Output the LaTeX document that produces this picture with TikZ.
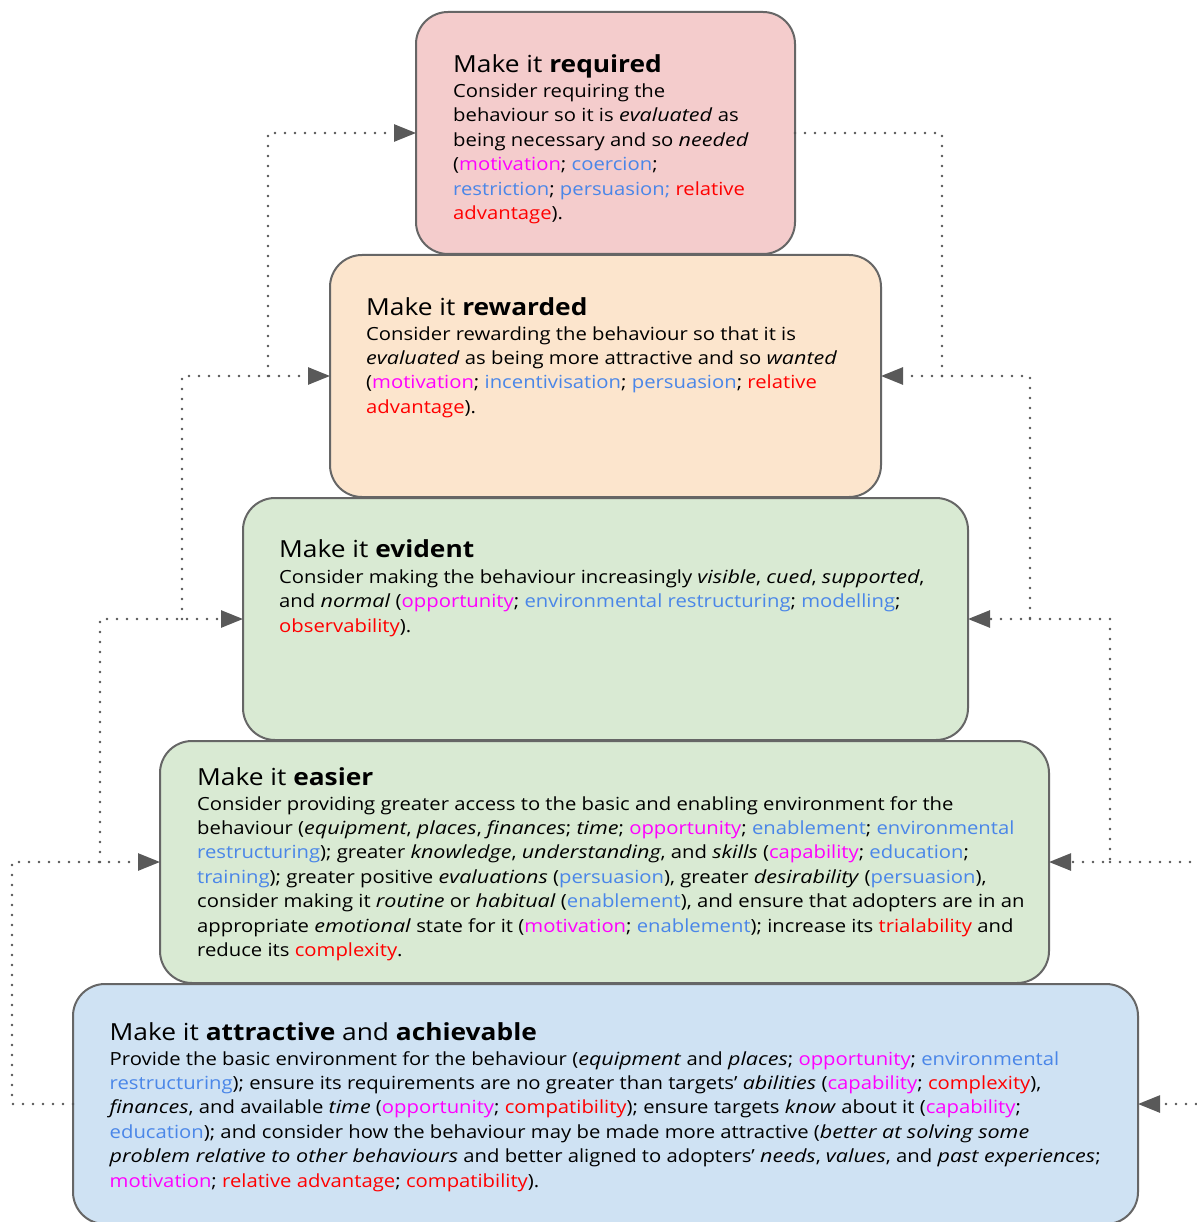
\documentclass[tikz,border=0pt]{standalone}
\usepackage{fontspec}
\setmainfont{Open Sans}[UprightFeatures={FakeStretch=1.12}, BoldFeatures={FakeStretch=1.12}, ItalicFeatures={FakeStretch=1.19}]
\usetikzlibrary{arrows.meta}
\definecolor{cmg}{HTML}{FF00FF}
\definecolor{cbl}{HTML}{4A86E8}
\definecolor{crd}{HTML}{FF0000}
\definecolor{fpink}{HTML}{F4CCCC}
\definecolor{fpeach}{HTML}{FCE5CD}
\definecolor{fgreen}{HTML}{D9EAD3}
\definecolor{fblue}{HTML}{CFE2F3}
\definecolor{bordergray}{HTML}{666666}
\definecolor{dotgray}{HTML}{555555}
\definecolor{tipgray}{HTML}{595959}
\newcommand\mgt[1]{\textcolor{cmg}{#1}}
\newcommand\blt[1]{\textcolor{cbl}{#1}}
\newcommand\rdt[1]{\textcolor{crd}{#1}}
\newcommand\titlefont{\fontsize{23.5}{28}\selectfont}
\newcommand\bodyfont{\fontsize{18.1}{24.45}\selectfont}
\newcommand\bodylines[1]{\vtop{\bodyfont\baselineskip=24.45pt\lineskiplimit=-100pt\lineskip=0pt #1}}
\tikzset{
  tierbox/.style={draw=bordergray, line width=2pt, rounded corners=32pt, anchor=north west, inner sep=0pt, outer sep=0pt},
  titletext/.style={anchor=base west, inner sep=0pt, font=\titlefont},
  bodytext/.style={anchor=base west, inner sep=0pt},
  conn/.style={draw=dotgray, line width=2.6pt, line cap=round, dash pattern=on 0pt off 10pt,
    -{Triangle[length=22pt,width=17pt,color=tipgray,fill=tipgray]}},
  connplain/.style={draw=dotgray, line width=2.6pt, line cap=round, dash pattern=on 0pt off 10pt}
}
\begin{document}
\begin{tikzpicture}[x=1pt,y=-1pt]
\useasboundingbox (0,0) rectangle (1196,1222);
\fill[white] (0,0) rectangle (1196,1222);
% boxes
\node[tierbox, fill=fpink,  minimum width=379pt,  minimum height=242pt] (b1) at (416,12) {};
\node[tierbox, fill=fpeach, minimum width=551pt,  minimum height=242pt] (b2) at (330,255) {};
\node[tierbox, fill=fgreen, minimum width=725pt,  minimum height=242pt] (b3) at (243,498) {};
\node[tierbox, fill=fgreen, minimum width=889pt,  minimum height=242pt] (b4) at (160,741) {};
\node[tierbox, fill=fblue,  minimum width=1065pt, minimum height=240pt] (b5) at (73,984) {};
% texts box 1
\node[titletext] (t1) at (453,72.7) {Make it \textbf{required}};
\node[bodytext] (x1) at (453,97.3) {\bodylines{%
\hbox{Consider requiring the}
\hbox{behaviour so it is \emph{evaluated} as}
\hbox{being necessary and so \emph{needed}}
\hbox{(\mgt{motivation}; \blt{coercion};}
\hbox{\blt{restriction}; \blt{persuasion;} \rdt{relative}}
\hbox{\rdt{advantage}).}}};
% box 2
\node[titletext] (t2) at (366,315) {Make it \textbf{rewarded}};
\node[bodytext] (x2) at (366,340) {\bodylines{%
\hbox{Consider rewarding the behaviour so that it is}
\hbox{\emph{evaluated} as being more attractive and so \emph{wanted}}
\hbox{(\mgt{motivation}; \blt{incentivisation}; \blt{persuasion}; \rdt{relative}}
\hbox{\rdt{advantage}).}}};
% box 3
\node[titletext] (t3) at (279,557) {Make it \textbf{evident}};
\node[bodytext] (x3) at (279,583.5) {\bodylines{%
\hbox{Consider making the behaviour increasingly \emph{visible}, \emph{cued}, \emph{supported},}
\hbox{and \emph{normal} (\mgt{opportunity}; \blt{environmental restructuring}; \blt{modelling};}
\hbox{\rdt{observability}).}}};
% box 4
\node[titletext] (t4) at (197,785) {Make it \textbf{easier}};
\node[bodytext] (x4) at (197,810) {\bodylines{%
\hbox{Consider providing greater access to the basic and enabling environment for the}
\hbox{behaviour (\emph{equipment}, \emph{places}, \emph{finances}; \emph{time}; \mgt{opportunity}; \blt{enablement}; \blt{environmental}}
\hbox{\blt{restructuring}); greater \emph{knowledge}, \emph{understanding}, and \emph{skills} (\mgt{capability}; \blt{education};}
\hbox{\blt{training}); greater positive \emph{evaluations} (\blt{persuasion}), greater \emph{desirability} (\blt{persuasion}),}
\hbox{consider making it \emph{routine} or \emph{habitual} (\blt{enablement}), and ensure that adopters are in an}
\hbox{appropriate \emph{emotional} state for it (\mgt{motivation}; \blt{enablement}); increase its \rdt{trialability} and}
\hbox{reduce its \rdt{complexity}.}}};
% box 5
\node[titletext] (t5) at (109.5,1040) {Make it \textbf{attractive} and \textbf{achievable}};
\node[bodytext] (x5) at (109.5,1065) {\bodylines{%
\hbox{Provide the basic environment for the behaviour (\emph{equipment} and \emph{places}; \mgt{opportunity}; \blt{environmental}}
\hbox{\blt{restructuring}); ensure its requirements are no greater than targets' \emph{abilities} (\mgt{capability}; \rdt{complexity}),}
\hbox{\emph{finances}, and available \emph{time} (\mgt{opportunity}; \rdt{compatibility}); ensure targets \emph{know} about it (\mgt{capability};}
\hbox{\blt{education}); and consider how the behaviour may be made more attractive (\emph{better at solving some}}
\hbox{\emph{problem relative to other behaviours} and better aligned to adopters' \emph{needs}, \emph{values}, and \emph{past experiences};}
\hbox{\mgt{motivation}; \rdt{relative advantage}; \rdt{compatibility}).}}};
% left connectors
\draw[conn] (b5.west) -- ++(-61,0) |- (b4.west);
\draw[conn] ([xshift=-60pt]b4.west) |- (b3.west);
\draw[conn] ([xshift=-61pt]b3.west) |- (b2.west);
\draw[conn] ([xshift=-62pt]b2.west) |- (b1.west);
% right connectors
\draw[conn] (b1.east) -| ([xshift=61pt]b2.east) -- (b2.east);
\draw[conn] ([xshift=61pt]b2.east) -| ([xshift=62pt]b3.east) -- (b3.east);
\draw[conn] ([xshift=62pt]b3.east) -| ([xshift=61pt]b4.east) -- (b4.east);
\coordinate (edgeA) at (1192,862);
\coordinate (edgeB) at (1196,1104);
\draw[connplain] ([xshift=61pt]b4.east) -- (edgeA);
\draw[conn] (edgeB) -- (b5.east);
\end{tikzpicture}
\end{document}
